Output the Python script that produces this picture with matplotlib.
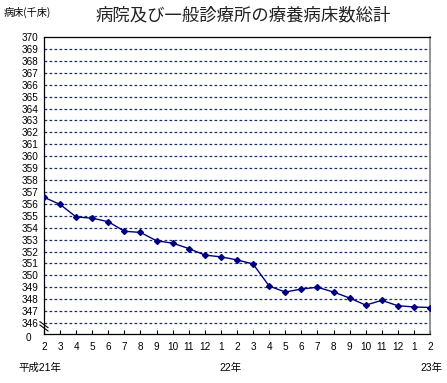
import matplotlib.pyplot as plt

plt.rcParams['font.family'] = ['Liberation Sans', 'Noto Sans CJK JP', 'DejaVu Sans']

# 月ラベル（平成21年2月〜23年2月）
meses = ["2", "3", "4", "5", "6", "7", "8", "9", "10", "11", "12", "1",
         "2", "3", "4", "5", "6", "7", "8", "9", "10", "11", "12", "1", "2"]
# 療養病床数（千床）
camas = [356.55, 355.95, 354.9, 354.8, 354.5, 353.7, 353.6, 352.9, 352.7,
         352.25, 351.7, 351.55, 351.3, 350.95, 349.1, 348.6, 348.85, 349.0,
         348.6, 348.1, 347.5, 347.9, 347.45, 347.35, 347.3]
yticks = list(range(346, 371))
anios = ["平成21年", "22年", "23年"]

fig = plt.figure(figsize=(4.47, 3.83), dpi=100)
ax = fig.add_axes([0.0984, 0.128, 0.8636, 0.7754])

x = list(range(len(camas)))
ymin = 345.08

for v in yticks[:-1]:
    ax.axhline(v, color="#1a2f6e", linestyle=(0, (2.2, 1.8)), linewidth=0.9, zorder=1)

ax.plot(x, camas, color="#000080", linewidth=1, marker="D", markersize=3, zorder=3)

ax.set_xlim(0, len(camas) - 1)
ax.set_ylim(ymin, 370)
ax.set_yticks(yticks)
ax.set_yticklabels([str(v) for v in yticks])
ax.set_xticks(x)
ax.set_xticklabels(meses)
ax.tick_params(axis="y", length=0, pad=4, labelsize=7.2)
ax.tick_params(axis="x", direction="in", length=3, width=0.8, pad=6, labelsize=7.2)
for s in ["left", "bottom", "top"]:
    ax.spines[s].set_color("black")
    ax.spines[s].set_linewidth(0.9)
ax.spines["right"].set_color("#808080")
ax.spines["right"].set_linewidth(1.2)

# 軸の 0 と省略記号
ax.text(-0.95, ymin - 0.35, "0", ha="center", va="center", fontsize=7.2, clip_on=False)
trans = ax.transData
for dy in (0.0, 0.28):
    ax.plot([-0.25, 0.25], [ymin + 0.75 + dy, ymin + 0.25 + dy], color="black",
            linewidth=0.8, transform=trans, clip_on=False, zorder=4)

# 年ラベル
fig.text(0.09, 0.04, anios[0], ha="center", va="center", fontsize=7.5)
fig.text(0.515, 0.04, anios[1], ha="center", va="center", fontsize=7.5)
fig.text(0.965, 0.04, anios[2], ha="center", va="center", fontsize=7.5)

fig.text(0.008, 0.968, "病床(千床)", ha="left", va="center", fontsize=7.3,
         family=['Noto Sans CJK JP'])
fig.text(0.545, 0.96, "病院及び一般診療所の療養病床数総計", ha="center", va="center",
         fontsize=12.5, family=['Noto Sans CJK JP'], color="#222222")

fig.savefig("out.png", dpi=100)
